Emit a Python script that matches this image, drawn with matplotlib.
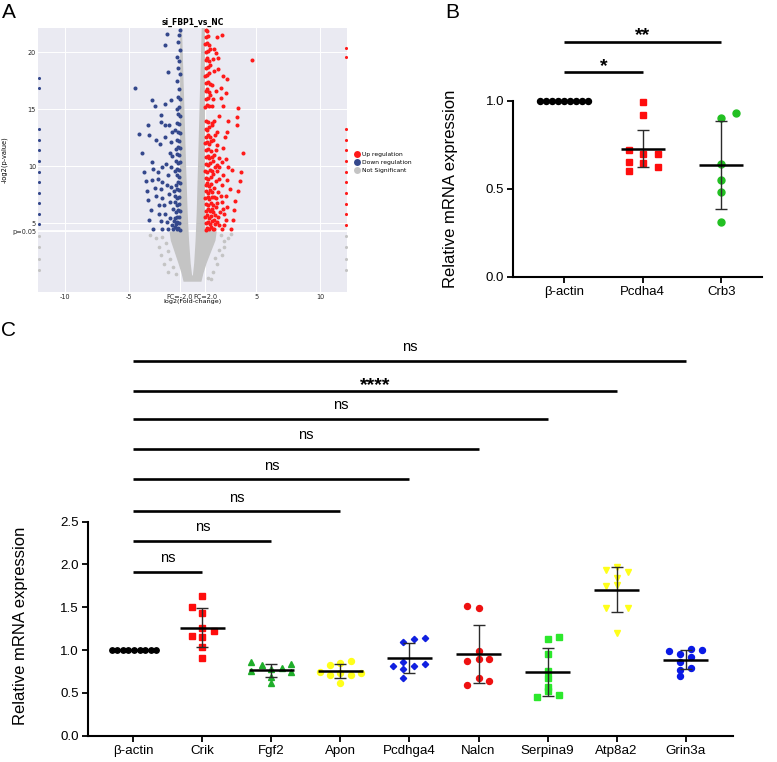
import numpy as np
import matplotlib
matplotlib.use("Agg")
import matplotlib.pyplot as plt
from matplotlib.lines import Line2D

plt.rcParams["font.family"] = ["Liberation Sans", "DejaVu Sans"]

# ---------------- A: volcano (log2 fold change, -log2 p) ----------------
P05 = 4.32  # -log2(0.05)

up_pts = [
    (1.89, 21.29), (2.28, 21.5), (2.02, 19.45), (4.66, 19.3), (2.02, 18.52), (2.38, 17.88),
    (2.67, 17.65), (1.55, 17.1), (2.2, 16.86), (2.59, 16.45), (1.81, 16.6), (2.2, 15.99),
    (1.55, 15.3), (2.38, 15.3), (3.55, 15.08), (3.5, 14.3), (2.07, 14.4), (2.8, 14.0),
    (3.45, 13.57), (2.67, 12.99), (1.89, 13.04), (1.55, 13.57), (1.76, 12.7), (2.54, 12.55),
    (2.38, 11.59), (3.94, 11.15), (2.07, 10.71), (2.64, 10.65), (2.28, 10.36), (2.8, 9.93),
    (3.1, 9.69), (3.78, 9.49), (1.94, 9.55), (2.41, 9.26), (2.69, 8.76), (3.7, 8.67),
    (1.81, 8.67), (2.28, 8.38), (2.93, 8.03), (3.58, 7.8), (2.02, 7.74), (2.59, 7.39),
    (3.32, 6.93), (2.28, 6.87), (1.81, 6.43), (2.69, 6.43), (3.26, 6.14), (2.15, 6.0),
    (3.16, 5.32), (2.59, 5.26), (1.89, 5.12), (3.0, 4.54), (2.33, 4.48), (1.68, 4.48),
    (1.7, 11.0), (1.75, 9.9), (1.65, 7.3), (1.75, 5.7), (1.95, 11.9), (1.7, 14.0),
    (1.65, 18.3), (1.7, 20.3), (1.9, 10.1), (2.0, 5.6), (2.45, 5.85), (2.1, 4.9),
    (2.5, 4.9), (1.85, 7.2), (1.72, 8.1), (1.95, 6.8), (1.8, 4.95), (1.62, 9.3),
    (1.58, 12.3), (1.62, 10.5), (2.1, 8.9), (2.2, 7.4), (1.6, 6.0), (1.7, 5.3),
    (2.4, 6.3), (2.05, 9.9), (1.85, 11.4), (1.6, 15.9), (1.6, 19.4), (1.85, 19.9),
    (1.02, 4.45), (1.15, 4.6), (1.3, 4.5), (1.45, 4.7), (1.6, 4.55), (1.05, 5.0),
    (1.22, 5.1), (1.38, 4.95), (1.55, 5.2), (1.0, 5.55), (1.12, 5.7), (1.3, 5.5),
    (1.47, 5.65), (1.03, 6.1), (1.2, 6.25), (1.35, 6.05), (1.52, 6.3), (1.08, 6.7),
    (1.25, 6.6), (1.42, 6.8), (1.6, 6.65), (1.0, 7.2), (1.18, 7.3), (1.33, 7.15),
    (1.5, 7.35), (1.05, 7.8), (1.22, 7.7), (1.4, 7.9), (1.56, 7.75), (1.02, 8.35),
    (1.15, 8.5), (1.3, 8.3), (1.48, 8.45), (1.08, 9.0), (1.25, 8.9), (1.42, 9.1),
    (1.0, 9.6), (1.17, 9.5), (1.35, 9.7), (1.55, 9.55), (1.05, 10.2), (1.22, 10.1),
    (1.4, 10.3), (1.02, 10.8), (1.18, 10.9), (1.32, 10.7), (1.5, 10.85), (1.06, 11.4),
    (1.25, 11.5), (1.42, 11.35), (1.0, 12.0), (1.15, 12.1), (1.3, 11.95), (1.47, 12.2),
    (1.04, 12.6), (1.2, 12.75), (1.38, 12.55), (1.02, 13.3), (1.16, 13.2), (1.32, 13.45),
    (1.5, 13.8), (1.05, 14.0), (1.22, 13.9), (1.0, 15.2), (1.12, 15.4), (1.28, 15.3),
    (1.04, 15.9), (1.2, 16.0), (1.36, 16.2), (1.02, 16.6), (1.15, 16.8), (1.3, 16.5),
    (1.06, 17.3), (1.22, 17.4), (1.38, 17.2), (1.0, 17.9), (1.14, 18.0), (1.3, 18.2),
    (1.04, 18.6), (1.2, 18.7), (1.35, 18.9), (1.02, 19.3), (1.16, 19.5), (1.3, 19.2),
    (1.06, 20.0), (1.22, 20.1), (1.35, 20.3), (1.0, 20.7), (1.15, 20.8), (1.3, 20.6),
    (1.04, 21.3), (1.2, 21.4), (1.02, 21.9), (1.12, 21.85),
]

down_pts = [
    (-1.97, 21.58), (-2.13, 20.65), (-1.92, 18.23), (-4.51, 16.86), (-3.21, 15.84), (-2.9, 15.26),
    (-2.18, 15.43), (-2.49, 14.5), (-3.47, 13.57), (-2.49, 13.9), (-2.18, 13.57), (-1.87, 13.63),
    (-4.17, 12.81), (-3.42, 12.78), (-2.85, 12.32), (-2.57, 11.97), (-2.18, 12.55), (-3.99, 11.15),
    (-3.16, 10.36), (-1.79, 11.15), (-3.78, 9.49), (-3.11, 9.72), (-2.7, 9.49), (-2.38, 9.93),
    (-2.05, 10.22), (-3.68, 8.67), (-3.21, 8.76), (-2.7, 8.91), (-2.36, 8.62), (-1.92, 9.2),
    (-3.6, 7.83), (-2.9, 8.12), (-2.44, 7.97), (-1.97, 8.32), (-3.47, 7.01), (-2.85, 7.36),
    (-2.39, 7.22), (-3.27, 6.2), (-2.64, 6.58), (-2.23, 6.58), (-3.37, 5.32), (-2.64, 5.85),
    (-2.18, 5.85), (-3.06, 4.54), (-2.49, 5.18), (-1.97, 5.12), (-2.38, 4.54), (-1.92, 4.48),
    (-1.75, 6.9), (-1.8, 5.5), (-1.7, 9.9), (-1.72, 12.1), (-1.65, 15.8),
    (-1.6, 4.9), (-1.65, 8.2), (-1.6, 10.9), (-1.85, 7.6), (-1.6, 13.0),
    (-1.0, 4.45), (-1.12, 4.6), (-1.25, 4.5), (-1.38, 4.65), (-1.5, 4.5), (-1.02, 5.0),
    (-1.18, 5.1), (-1.3, 4.95), (-1.45, 5.2), (-1.05, 5.55), (-1.2, 5.6), (-1.35, 5.45),
    (-1.0, 6.1), (-1.15, 6.2), (-1.3, 6.0), (-1.5, 6.3), (-1.08, 6.7), (-1.25, 6.65),
    (-1.4, 6.85), (-1.02, 7.3), (-1.18, 7.2), (-1.35, 7.4), (-1.05, 7.9), (-1.22, 8.0),
    (-1.45, 7.85), (-1.0, 8.5), (-1.15, 8.6), (-1.32, 8.4), (-1.06, 9.1), (-1.25, 9.2),
    (-1.02, 9.7), (-1.2, 9.8), (-1.4, 9.6), (-1.0, 10.4), (-1.15, 10.3), (-1.3, 10.5),
    (-1.05, 11.0), (-1.22, 11.1), (-1.0, 11.6), (-1.12, 11.7), (-1.3, 11.5), (-1.04, 12.2),
    (-1.2, 12.3), (-1.0, 12.9), (-1.15, 13.0), (-1.35, 13.2), (-1.03, 13.7), (-1.2, 13.8),
    (-1.0, 14.4), (-1.12, 14.6), (-1.05, 15.2), (-1.25, 15.0), (-1.0, 15.9), (-1.15, 16.1),
    (-1.03, 16.8), (-1.2, 17.5), (-1.0, 18.1), (-1.1, 18.6), (-1.05, 19.2), (-1.2, 19.6),
    (-1.0, 20.2), (-1.1, 20.9), (-1.05, 21.5), (-1.0, 21.9),
]

ns_pts = [
    (-2.82, 3.7), (-2.6, 2.95), (-2.45, 2.2), (-2.2, 1.45), (-1.95, 0.75), (-2.35, 3.8),
    (-2.05, 3.3), (-1.95, 2.6), (-1.75, 1.9), (-1.5, 1.2), (-1.3, 0.6), (-3.3, 3.95),
    (2.2, 3.95), (2.8, 3.72), (2.46, 2.93), (2.28, 2.2), (1.94, 1.48), (1.61, 0.74),
    (1.42, 0.17), (2.5, 3.5), (2.1, 2.7), (1.8, 2.0), (3.0, 4.1), (1.2, 0.2),
]

# outline of the dense cloud of non-significant genes (V shape)
ns_cloud_x = [-0.7, -0.85, -1.1, -1.4, -1.7, -1.8, -1.0, -0.98, -0.97, -0.82, -0.66, -0.5,
              -0.38, -0.27, -0.14, -0.03, 0.03, 0.13, 0.24, 0.33, 0.43, 0.57, 0.72, 0.97,
              0.98, 1.0, 1.9, 1.8, 1.45, 1.1, 0.85, 0.7]
ns_cloud_y = [-0.1, 0.6, 1.5, 2.5, 3.5, 4.3, 4.35, 10, 22.1, 22.1, 16, 10,
              6, 3.5, 1.5, 0.45, 0.45, 1.5, 3.5, 6, 10, 16, 22.1, 22.1,
              10, 4.35, 4.3, 3.5, 2.5, 1.5, 0.6, -0.1]

# genes clipped at the x-limits
edge_up_y = [20.36, 19.54, 13.28, 12.32, 11.41, 10.45, 9.52, 8.61, 7.68, 6.72, 5.79, 4.83]
edge_down_y = [17.74, 16.83, 13.22, 12.34, 11.41, 10.45, 9.52, 8.61, 7.68, 6.77, 5.85, 4.91]
edge_ns_y = [3.92, 2.93, 1.91, 0.95]

# ---------------- B ----------------
b_genes = ["β-actin", "Pcdha4", "Crb3"]
b_actin = [1.0, 1.0, 1.0, 1.0, 1.0, 1.0, 1.0, 1.0, 1.0]
b_actin_dx = [-0.3, -0.225, -0.15, -0.075, 0.0, 0.075, 0.15, 0.225, 0.3]
b_pcdha4 = [0.99, 0.92, 0.72, 0.70, 0.70, 0.65, 0.645, 0.60, 0.625]
b_pcdha4_dx = [0.0, 0.0, -0.17, 0.0, 0.19, -0.17, 0.0, -0.17, 0.19]
b_crb3 = [0.90, 0.928, 0.64, 0.549, 0.479, 0.31]
b_crb3_dx = [0.0, 0.19, 0.0, 0.0, 0.0, 0.0]
b_err = [0.0, 0.105, 0.252]          # error bars as drawn
b_sig_y = [1.163, 1.335]
b_sig_to = [1, 2]
b_sig_txt = ["*", "**"]

# ---------------- C ----------------
c_genes = ["β-actin", "Crik", "Fgf2", "Apon", "Pcdhga4", "Nalcn", "Serpina9", "Atp8a2", "Grin3a"]
c_actin = [1.0, 1.0, 1.0, 1.0, 1.0, 1.0, 1.0, 1.0, 1.0]
c_actin_dx = [-0.31, -0.23, -0.15, -0.07, 0.01, 0.09, 0.17, 0.25, 0.33]
c_crik = [1.632, 1.50, 1.43, 1.262, 1.227, 1.168, 1.157, 1.04, 0.911]
c_crik_dx = [0.0, -0.15, 0.0, 0.0, 0.17, -0.15, 0.0, 0.0, 0.0]
c_fgf2 = [0.861, 0.752, 0.822, 0.779, 0.787, 0.837, 0.748, 0.689, 0.611]
c_fgf2_dx = [-0.29, -0.29, -0.14, 0.0, 0.15, 0.29, 0.29, 0.0, 0.0]
c_apon = [0.822, 0.845, 0.868, 0.748, 0.709, 0.736, 0.713, 0.728, 0.619]
c_apon_dx = [-0.145, 0.0, 0.16, -0.29, -0.145, 0.0, 0.16, 0.30, 0.0]
c_pcdhga4 = [0.81, 1.10, 1.135, 1.14, 0.855, 0.81, 0.84, 0.775, 0.67]
c_pcdhga4_dx = [-0.24, -0.09, 0.07, 0.23, -0.09, 0.07, 0.23, -0.09, -0.09]
c_nalcn = [1.515, 1.492, 0.99, 0.873, 0.892, 0.892, 0.678, 0.643, 0.588]
c_nalcn_dx = [-0.165, 0.0, 0.0, -0.165, 0.0, 0.155, 0.0, 0.155, -0.165]
c_serpina9 = [1.157, 1.126, 0.959, 0.76, 0.671, 0.574, 0.52, 0.448, 0.471]
c_serpina9_dx = [0.165, 0.0, 0.0, 0.0, 0.0, 0.0, 0.0, -0.16, 0.165]
c_atp8a2 = [1.936, 1.975, 1.916, 1.839, 1.76, 1.749, 1.495, 1.495, 1.196]
c_atp8a2_dx = [-0.16, 0.0, 0.16, 0.0, 0.0, -0.16, -0.16, 0.16, 0.0]
c_grin3a = [0.993, 0.954, 1.013, 1.005, 0.861, 0.916, 0.795, 0.768, 0.701]
c_grin3a_dx = [-0.235, -0.08, 0.07, 0.23, -0.08, 0.07, 0.07, -0.08, -0.08]
c_sig_y = [1.916, 2.275, 2.625, 2.995, 3.353, 3.703, 4.023, 4.38]
c_sig_txt = ["ns", "ns", "ns", "ns", "ns", "ns", "****", "ns"]

RED = "#FF1A1A"
BLUE_V = "#34488C"
GRAY = "#C4C4C4"

fig = plt.figure(figsize=(7.77, 7.62), dpi=100)
W, H = 777.0, 762.0


def px_axes(left, top, right, bottom):
    return fig.add_axes([left / W, 1 - bottom / H, (right - left) / W, (bottom - top) / H])


# ---- A ----
ax = px_axes(38, 28, 347, 292)
ax.set_facecolor("#EAEAF2")
for s in ax.spines.values():
    s.set_visible(False)
ax.set_axisbelow(True)
ax.grid(color="white", lw=0.7)
ax.axhline(P05, color="white", lw=1.3, zorder=1)
ax.fill(ns_cloud_x, ns_cloud_y, color=GRAY, lw=0, zorder=2)
nx, ny = zip(*ns_pts)
ax.scatter(nx, ny, s=7, c=GRAY, lw=0, zorder=2)
dx_, dy_ = zip(*down_pts)
ax.scatter(dx_, dy_, s=8.5, c=BLUE_V, lw=0, zorder=3)
ux, uy = zip(*up_pts)
ax.scatter(ux, uy, s=8.5, c=RED, lw=0, zorder=3)
ax.scatter([12] * len(edge_up_y), edge_up_y, s=5, c=RED, lw=0, zorder=3)
ax.scatter([-12] * len(edge_down_y), edge_down_y, s=5, c=BLUE_V, lw=0, zorder=3)
ax.scatter([12] * len(edge_ns_y), edge_ns_y, s=5, c=GRAY, lw=0, zorder=3)
ax.scatter([-12] * len(edge_ns_y), edge_ns_y, s=5, c=GRAY, lw=0, zorder=3)
ax.set_xlim(-12.1, 12.1)
ax.set_ylim(-1.0, 22.1)
ax.set_xticks([-10, -5, -1, 1, 5, 10], labels=["-10", "-5", "FC=-2.0", "FC=2.0", "5", "10"])
ax.set_yticks([P05, 5, 10, 15, 20], labels=["p=0.05", "5", "10", "15", "20"])
ax.tick_params(length=0, labelsize=4.7, pad=1.5, labelcolor="#262626")
for t in ax.get_xticklabels() + ax.get_yticklabels():
    t.set_family("DejaVu Sans")
ax.set_title("si_FBP1_vs_NC", fontsize=5.5, fontweight="bold", family="DejaVu Sans", pad=2)
ax.set_xlabel("log2(Fold-change)", fontsize=4.6, family="DejaVu Sans")
ax.set_ylabel("-log2(p-value)", fontsize=4.8, family="DejaVu Sans")
ax.xaxis.set_label_coords(0.5, -0.025)
ax.yaxis.set_label_coords(-0.097, 0.5)
handles = [Line2D([], [], ls="", marker="o", markersize=5, color=c, mec="none")
           for c in (RED, BLUE_V, GRAY)]
ax.legend(handles, ["Up regulation", "Down regulation", "Not Significant"],
          loc="center left", bbox_to_anchor=(1.022, 0.49), frameon=False,
          prop={"size": 4.3, "family": "DejaVu Sans"}, handletextpad=0.3,
          labelspacing=0.45, borderpad=0, borderaxespad=0, handlelength=1.0)


def dot_plot(ax, i, vals, dx, color, marker, ms, half, cap, err=None):
    ax.plot([i + d for d in dx], vals, ls="", marker=marker, color=color, mec=color,
            markersize=ms, zorder=3, clip_on=False)
    m = np.mean(vals)
    sd = np.std(vals, ddof=1) if err is None else err
    ax.errorbar(i, m, yerr=sd, fmt="none", ecolor="#2b2b2b", elinewidth=1.0,
                capsize=cap, capthick=1.0, zorder=4)
    ax.hlines(m, i - half, i + half, color="black", lw=1.8, zorder=5)


def prism_axes(ax, ticks, labels, ytop, tick_fs):
    ax.spines["top"].set_visible(False)
    ax.spines["right"].set_visible(False)
    for s in ("left", "bottom"):
        ax.spines[s].set_linewidth(1.5)
    ax.spines["left"].set_bounds(0, ytop)
    ax.set_xticks(ticks, labels=labels)
    ax.tick_params(direction="out", length=4.5, width=1.3, labelsize=tick_fs, pad=2)


# ---- B ----
axb = px_axes(513, 21.5, 762, 276.7)
dot_plot(axb, 0, b_actin, b_actin_dx, "black", "o", 4.3, 0.28, 4.5, b_err[0])
dot_plot(axb, 1, b_pcdha4, b_pcdha4_dx, "#FF0D0D", "s", 4.8, 0.28, 4.5, b_err[1])
dot_plot(axb, 2, b_crb3, b_crb3_dx, "#22C022", "o", 5.0, 0.28, 4.5, b_err[2])
axb.set_xlim(-0.65, 2.52)
axb.set_ylim(0, 1.45)
axb.set_yticks([0, 0.5, 1.0], labels=["0.0", "0.5", "1.0"])
prism_axes(axb, range(3), b_genes, 1.0, 9.5)
for y, j, txt in zip(b_sig_y, b_sig_to, b_sig_txt):
    axb.plot([0, j], [y, y], color="black", lw=1.9, solid_capstyle="butt", clip_on=False)
    axb.text(j / 2, y + 0.008, txt, ha="center", va="baseline", fontsize=14, fontweight="bold")
axb.set_ylabel("Relative mRNA expression", fontsize=12)
axb.yaxis.set_label_coords(-0.221, 0.345)

# ---- C ----
axc = px_axes(88, 329, 733, 735.7)
c_groups = [
    (c_actin, c_actin_dx, "black", "o", 3.9),
    (c_crik, c_crik_dx, "#FF0D0D", "s", 3.8),
    (c_fgf2, c_fgf2_dx, "#1FAE2A", "^", 4.2),
    (c_apon, c_apon_dx, "#FFFF1A", "o", 4.3),
    (c_pcdhga4, c_pcdhga4_dx, "#1020E0", "D", 3.2),
    (c_nalcn, c_nalcn_dx, "#EE1111", "o", 4.3),
    (c_serpina9, c_serpina9_dx, "#2CE82C", "s", 3.9),
    (c_atp8a2, c_atp8a2_dx, "#FFFF1A", "v", 4.2),
    (c_grin3a, c_grin3a_dx, "#0A1AE6", "o", 4.3),
]
for i, (vals, dx, col, mk, ms) in enumerate(c_groups):
    dot_plot(axc, i, vals, dx, col, mk, ms, 0.33, 4.0)
axc.set_xlim(-0.656, 8.685)
axc.set_ylim(0, 4.75)
axc.set_yticks([0, 0.5, 1.0, 1.5, 2.0, 2.5], labels=["0.0", "0.5", "1.0", "1.5", "2.0", "2.5"])
prism_axes(axc, range(9), c_genes, 2.5, 9.6)
for k, (y, txt) in enumerate(zip(c_sig_y, c_sig_txt)):
    axc.plot([0, k + 1], [y, y], color="black", lw=1.9, solid_capstyle="butt", clip_on=False)
    if txt == "ns":
        axc.text((k + 1) / 2, y + 0.11, txt, ha="center", va="baseline", fontsize=10.5)
    else:
        axc.text((k + 1) / 2, y + 0.01, txt, ha="center", va="baseline", fontsize=14,
                 fontweight="bold")
axc.set_ylabel("Relative mRNA expression", fontsize=12)
axc.yaxis.set_label_coords(-0.093, 0.27)

# panel letters
fig.text(2 / W, 1 - 3 / H, "A", fontsize=15, va="top", ha="left")
fig.text(445 / W, 1 - 3 / H, "B", fontsize=15, va="top", ha="left")
fig.text(1 / W, 1 - 321 / H, "C", fontsize=15, va="top", ha="left")

fig.savefig("out.png", dpi=100)
